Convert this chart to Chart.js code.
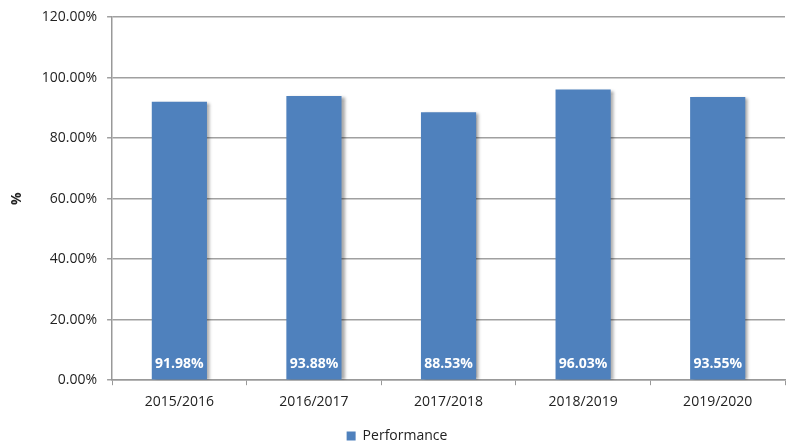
<!DOCTYPE html>
<html><head><meta charset="utf-8">
<script src="https://cdn.jsdelivr.net/npm/chart.js@4/dist/chart.umd.min.js"></script>
<style>html,body{margin:0;padding:0;background:#fff}#wrap{width:788px;height:445px}</style>
</head><body><div id="wrap"><canvas id="c" width="788" height="445"></canvas></div>
<script>
const categories = ["2015/2016","2016/2017","2017/2018","2018/2019","2019/2020"];
const performance = [91.98, 93.88, 88.53, 96.03, 93.55];
const yTicks = [0,20,40,60,80,100,120];
const seriesName = "Performance";
const FONT = "'Open Sans', 'Noto Sans', sans-serif";

const shadowPlugin = {
  id: 'shadow',
  beforeDatasetsDraw(chart){ const c=chart.ctx; c.save(); c.shadowColor='rgba(0,0,0,0.35)'; c.shadowOffsetX=3; c.shadowOffsetY=1; c.shadowBlur=3; },
  afterDatasetsDraw(chart){ chart.ctx.restore(); }
};
const labelPlugin = {
  id: 'labels',
  afterDatasetsDraw(chart){
    const c=chart.ctx; const meta=chart.getDatasetMeta(0);
    c.save(); c.fillStyle='#fff'; c.font="bold 14px "+FONT; c.textAlign='center'; c.textBaseline='middle';
    meta.data.forEach((bar,i)=>{ c.fillText(performance[i].toFixed(2)+'%', bar.x, chart.scales.y.getPixelForValue(0)-16); });
    c.restore();
  }
};

new Chart(document.getElementById('c'), {
  type:'bar',
  data:{labels:categories, datasets:[{label:seriesName, data:performance, backgroundColor:'#4F81BD', borderWidth:0, categoryPercentage:1, barPercentage:0.41}]},
  options:{
    responsive:false, animation:false, devicePixelRatio:1,
    layout:{padding:{top:0,right:3,left:9,bottom:-8}},
    plugins:{
      legend:{position:'bottom', labels:{font:{size:14,family:FONT}, color:'#222', boxWidth:9, boxHeight:9, padding:11}},
      tooltip:{enabled:false}
    },
    scales:{
      x:{grid:{display:true, drawOnChartArea:false, offset:true, tickLength:5, color:'#999'}, border:{color:'#999', width:1.5},
         ticks:{font:{size:14,family:FONT}, color:'#222', padding:8}},
      y:{min:0,max:120, afterBuildTicks(ax){ax.ticks=yTicks.map(v=>({value:v}));},
         grid:{color:'#a0a0a0', lineWidth:1.5, tickLength:5}, border:{color:'#999', width:1.5},
         ticks:{font:{size:14,family:FONT,lineHeight:1}, color:'#222', padding:10, callback:v=>v.toFixed(2)+'%'},
         title:{display:true, text:'%', font:{size:14,weight:'bold',family:FONT}, color:'#222', padding:{top:0,bottom:6}}}
    }
  },
  plugins:[shadowPlugin,labelPlugin]
});
</script></body></html>
